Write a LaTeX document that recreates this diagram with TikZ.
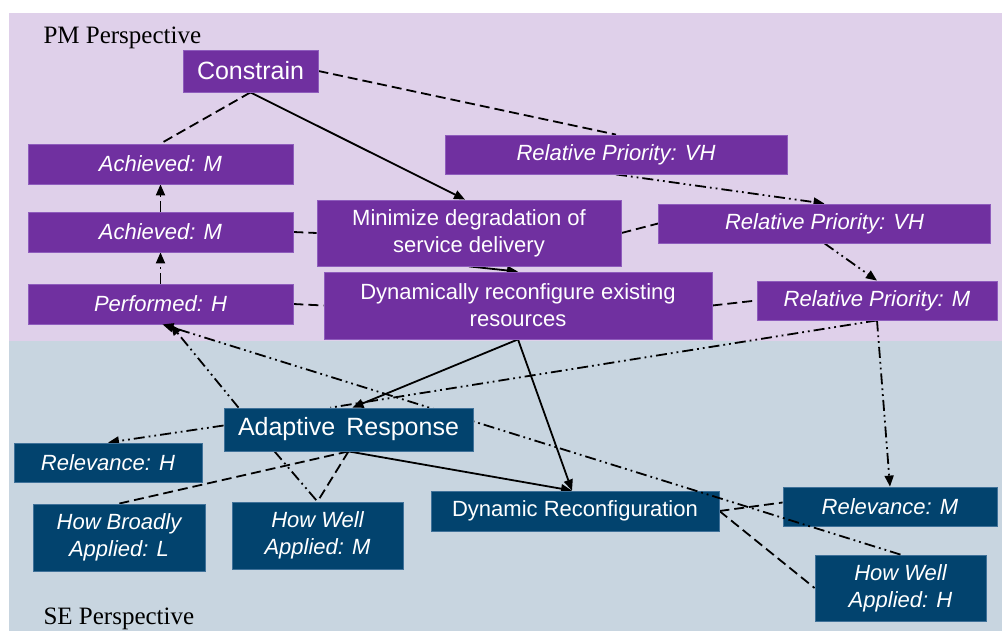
\documentclass[tikz,border=0pt]{standalone}
\usepackage{fontspec}
\setmainfont{Liberation Sans}
\newfontfamily\captionface{Liberation Serif}
\usetikzlibrary{arrows.meta}

\definecolor{pmback}{HTML}{DFD0EA}
\definecolor{seback}{HTML}{C8D5E0}
\definecolor{pmfill}{HTML}{7030A0}
\definecolor{pmedge}{HTML}{8E5CBC}
\definecolor{sefill}{HTML}{02436E}
\definecolor{seedge}{HTML}{3F7199}

\pgfdeclarelayer{back}
\pgfdeclarelayer{links}
\pgfdeclarelayer{front}
\pgfsetlayers{back,links,main,front}

\begin{document}
\begin{tikzpicture}[x=1pt,y=-1pt,
  box/.style={rectangle, inner sep=0pt, text=white, align=center,
    font=\fontsize{22}{27}\selectfont, line width=0.8pt},
  pmbox/.style={box, fill=pmfill, draw=pmedge},
  sebox/.style={box, fill=sefill, draw=seedge},
  rating/.style={font=\fontsize{22}{27}\selectfont\itshape},
  bigtext/.style={font=\fontsize{25}{30}\selectfont},
  caption/.style={anchor=base west, font=\captionface\fontsize{25}{30}\selectfont},
  solidline/.style={line width=1.8pt},
  dashline/.style={line width=1.8pt, dash pattern=on 10pt off 5pt},
  dotline/.style={line width=1.8pt, dash pattern=on 11pt off 4pt on 1.8pt off 4pt on 1.8pt off 4pt},
  arrowed/.style={-{Triangle[length=11pt,width=9pt]}}
]
\useasboundingbox (0,0) rectangle (1002,631);

% perspective bands
\begin{pgfonlayer}{back}
  \fill[pmback] (9,13) rectangle (1002,341);
  \fill[seback] (9,341) rectangle (1002,631);
\end{pgfonlayer}
\node[caption] (pmlabel) at (40,44) {PM Perspective};
\node[caption] (selabel) at (40,624) {SE Perspective};

% PM perspective boxes
\node[pmbox, bigtext, minimum width=135, minimum height=42] (cons) at (250.5,71) {Constrain};
\node[pmbox, rating, minimum width=265, minimum height=40] (ach1) at (160.5,164) {Achieved: M};
\node[pmbox, rating, minimum width=265, minimum height=40] (ach2) at (160.5,232) {Achieved: M};
\node[pmbox, rating, minimum width=265, minimum height=40] (perf) at (160.5,304) {Performed: H};
\node[pmbox, rating, minimum width=342, minimum height=39] (rp1) at (616,154.5) {Relative Priority: VH};
\node[pmbox, minimum width=304, minimum height=66] (mind) at (469,233) {Minimize degradation of\\service delivery};
\node[pmbox, rating, minimum width=332, minimum height=39] (rp2) at (824.5,223.5) {Relative Priority: VH};
\node[pmbox, minimum width=388, minimum height=67] (dyn) at (518,305.5) {Dynamically reconfigure existing\\resources};
\node[pmbox, rating, minimum width=240, minimum height=39] (rpm) at (877,300.5) {Relative Priority: M};

% SE perspective boxes
\begin{pgfonlayer}{front}
\node[sebox, bigtext, minimum width=249, minimum height=43] (ar) at (348.5,429.5) {Adaptive\ \,Response};
\end{pgfonlayer}
\node[sebox, rating, minimum width=188, minimum height=39] (relh) at (108,462.5) {Relevance: H};
\node[sebox, rating, minimum width=172, minimum height=67] (hba) at (119,537.5) {How Broadly\\Applied: L};
\node[sebox, rating, minimum width=171, minimum height=67] (hwm) at (317.5,535.5) {How Well\\Applied: M};
\node[sebox, minimum width=288, minimum height=40] (dr) at (575,511) {Dynamic Reconfiguration};
\node[sebox, rating, minimum width=214, minimum height=39] (relm) at (890,506.5) {Relevance: M};
\node[sebox, rating, minimum width=171, minimum height=66] (hwh) at (900.5,588) {How Well\\Applied: H};

% connectors behind the boxes
\begin{pgfonlayer}{links}
  \draw[solidline, arrowed] (cons.south) -- ([xshift=-4pt]mind.north);
  \draw[dashline] (cons.south) -- (ach1.north);
  \draw[dashline] (cons.east) -- (rp1.north);
  \draw[dotline, arrowed] (ach2.north) -- (ach1.south);
  \draw[dotline, arrowed] (perf.north) -- (ach2.south);
  \draw[dashline] (ach2.east) -- (mind.west);
  \draw[dashline] (perf.east) -- (dyn.west);
  \draw[solidline, arrowed] (mind.south) -- (dyn.north);
  \draw[dashline] (mind.east) -- (rp2.west);
  \draw[dashline] (dyn.east) -- (rpm.west);
  \draw[dotline, arrowed] (rp1.south) -- (rp2.north);
  \draw[dotline, arrowed] (rp2.south) -- (rpm.north);
  \draw[dotline, arrowed] (rpm.south) -- (relm.north);
  \draw[dotline] (rpm.south) -- ([xshift=-18pt]ar.north);
  \draw[solidline, arrowed] (dyn.south) -- ([xshift=4pt]ar.north);
  \draw[solidline, arrowed] (dyn.south) -- ([xshift=-3pt]dr.north);
  \draw[solidline, arrowed] (ar.south) -- ([xshift=-3pt]dr.north);
  \draw[dotline, arrowed] ([xshift=-110pt]ar.north) -- ([xshift=10pt]perf.south);
  \draw[dotline, arrowed] ([yshift=4pt]ar.west) -- (relh.north);
  \draw[dashline] (ar.south) -- (hba.north);
  \draw[dashline] (ar.south) -- (hwm.north);
  \draw[dotline] ([xshift=-74pt]ar.south) -- (hwm.north);
  \draw[dashline] (dr.east) -- ([yshift=4pt]relm.west);
  \draw[dashline] (dr.east) -- (hwh.west);
\end{pgfonlayer}

% long link over the lower boxes, passing behind Adaptive Response
\draw[dotline, arrowed] (hwh.north) -- ([xshift=2pt]perf.south);

\end{tikzpicture}
\end{document}
